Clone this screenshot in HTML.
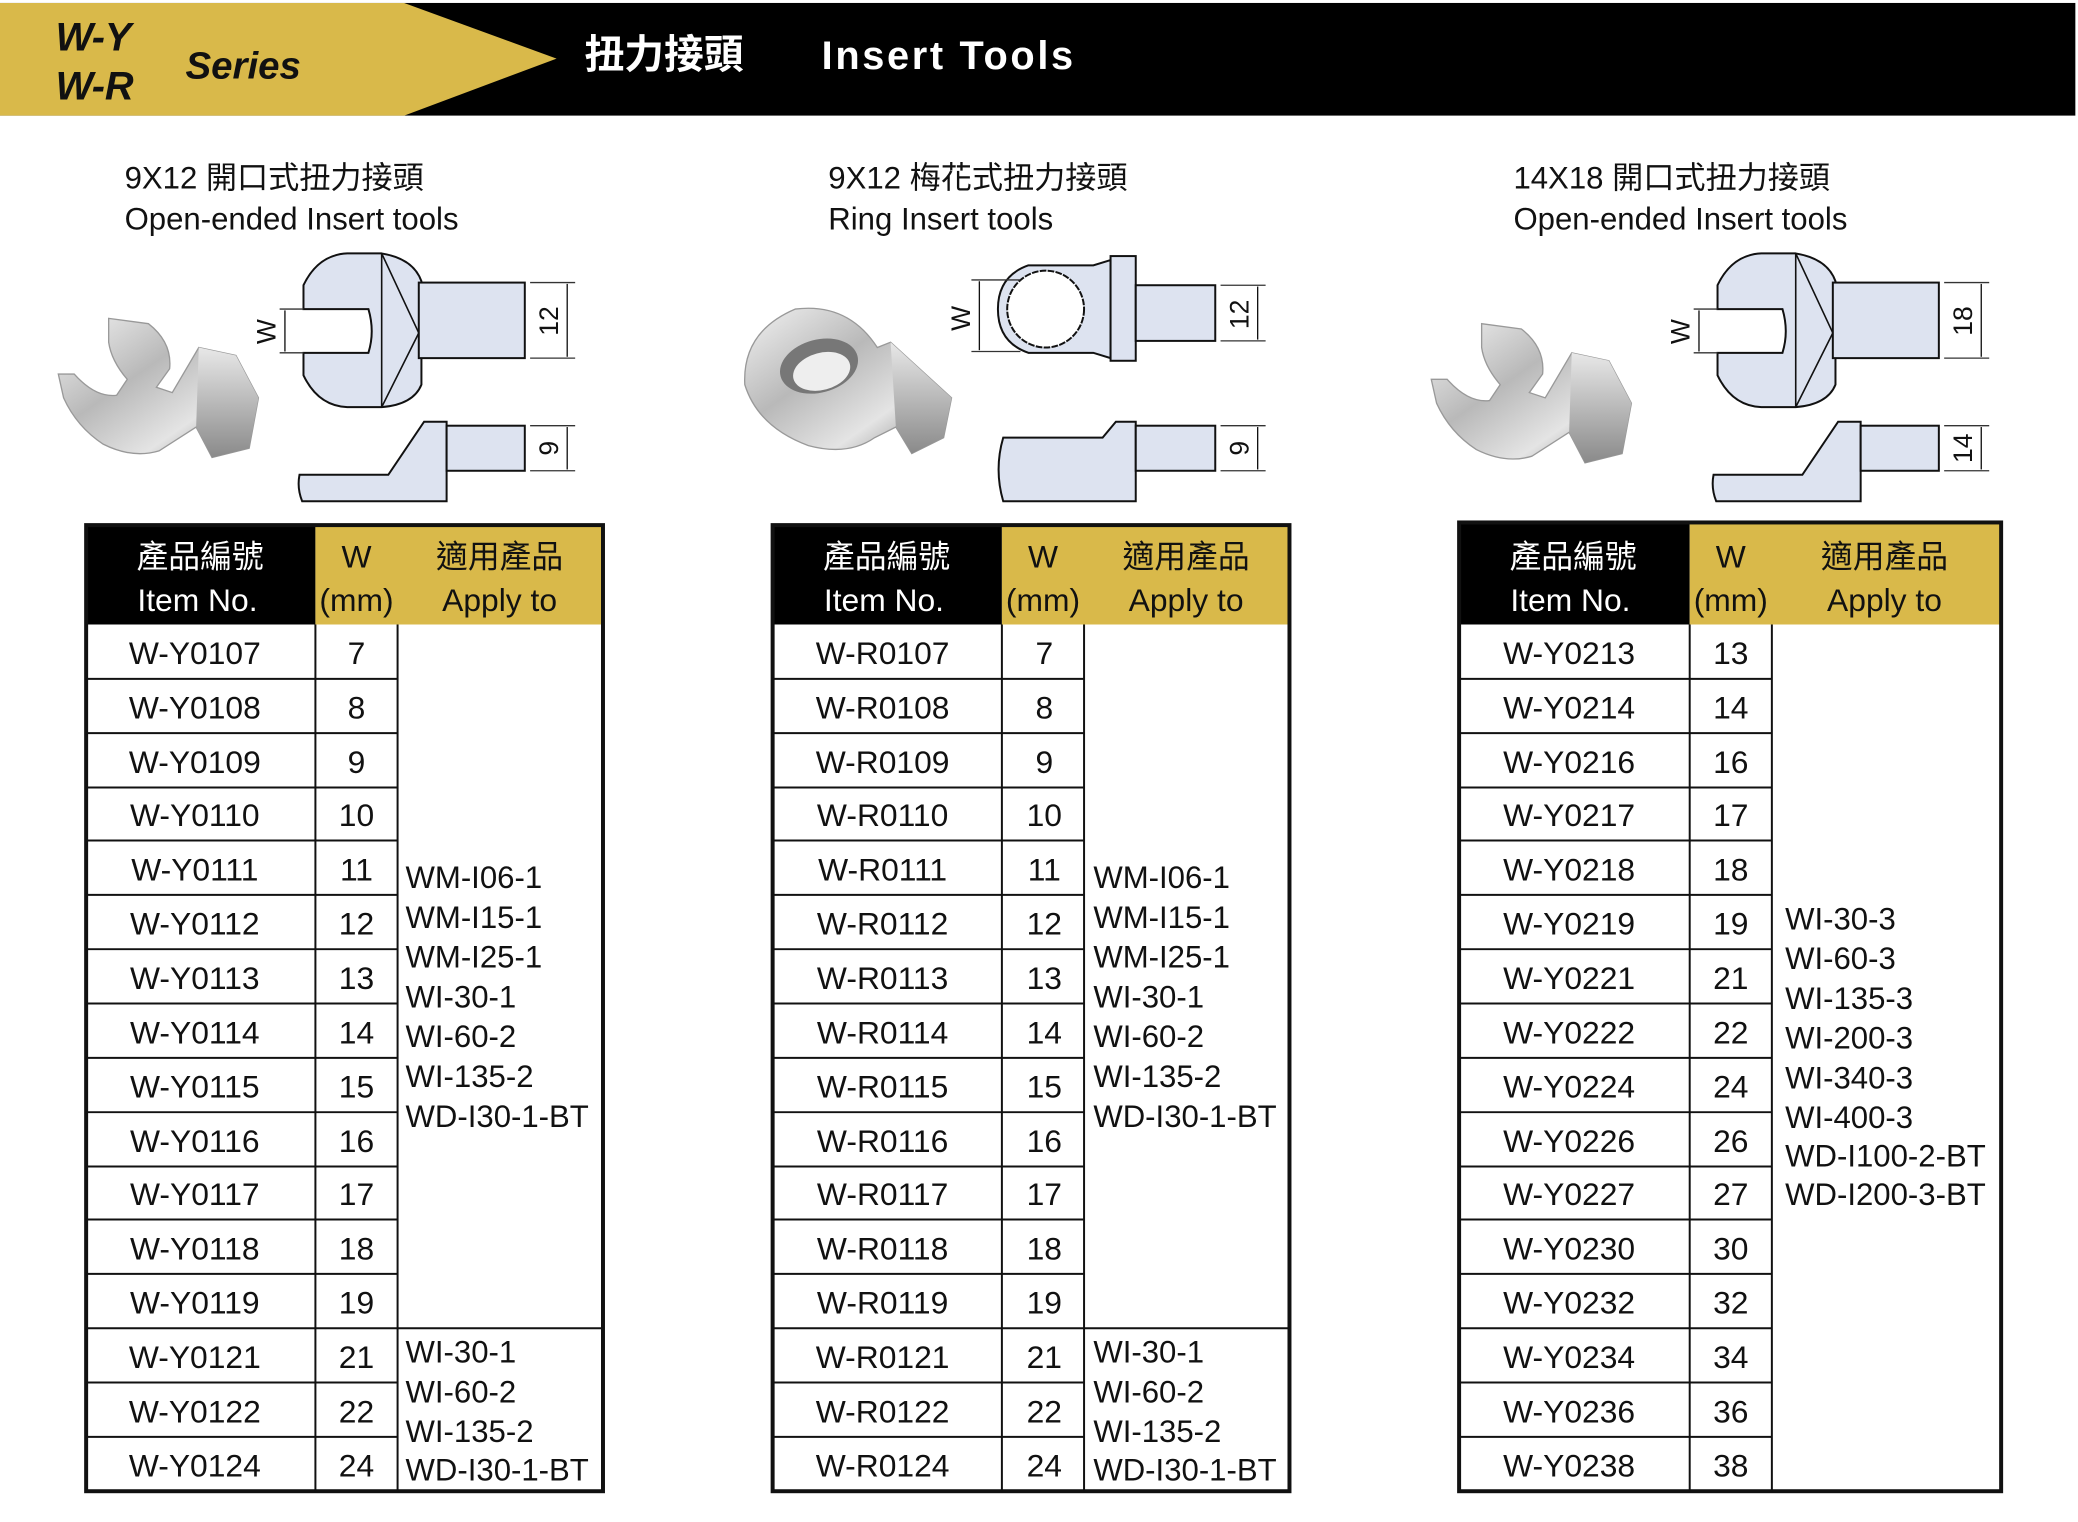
<!DOCTYPE html>
<html><head><meta charset="utf-8"><style>
html,body{margin:0;padding:0;background:#fff;}
svg{display:block;}
text{font-family:"Liberation Sans","Noto Sans CJK TC",sans-serif;}
</style></head><body>
<svg width="2078" height="1522" viewBox="0 0 1568 1148" xmlns="http://www.w3.org/2000/svg">
<defs>
<linearGradient id="mt" x1="0" y1="0" x2="1" y2="1">
<stop offset="0" stop-color="#f2f2f2"/><stop offset="0.4" stop-color="#b9b9b9"/><stop offset="0.7" stop-color="#e4e4e4"/><stop offset="1" stop-color="#7d7d7d"/>
</linearGradient>
<linearGradient id="mt2" x1="0" y1="0" x2="0" y2="1">
<stop offset="0" stop-color="#e8e8e8"/><stop offset="1" stop-color="#8a8a8a"/>
</linearGradient>
<g id="open">
 <path d="M229,233 L229,215 Q240,192 262,191 L288,191 Q312,195 318,212 L318,290 Q312,305 288,307 L262,307 Q240,306 229,283 L229,266 L278,266 Q283,250 278,233 Z" fill="#dde3f0" stroke="#111" stroke-width="1.5"/>
 <line x1="288" y1="191" x2="288" y2="307" stroke="#111" stroke-width="1.2"/>
 <path d="M288,191 L316,251 L288,307" fill="none" stroke="#111" stroke-width="1.2"/>
 <rect x="316" y="213" width="80" height="57" fill="#dde3f0" stroke="#111" stroke-width="1.5"/>
 <line x1="211" y1="233" x2="229" y2="233" stroke="#333"/><line x1="211" y1="266" x2="229" y2="266" stroke="#333"/>
 <line x1="215" y1="234" x2="215" y2="265" stroke="#111"/>
 <line x1="400" y1="213" x2="434" y2="213" stroke="#333"/><line x1="400" y1="270" x2="434" y2="270" stroke="#333"/>
 <line x1="428" y1="214" x2="428" y2="269" stroke="#111"/>
 <path d="M226,358 L293,358 L320,318 L337,318 L337,378 L228,378 Q224,368 226,358Z" fill="#dde3f0" stroke="#111" stroke-width="1.5"/>
 <rect x="337" y="321" width="59" height="34" fill="#dde3f0" stroke="#111" stroke-width="1.5"/>
 <line x1="400" y1="321" x2="434" y2="321" stroke="#333"/><line x1="400" y1="355" x2="434" y2="355" stroke="#333"/>
 <line x1="428" y1="322" x2="428" y2="354" stroke="#111"/>
</g>
<g id="photoOpen">
 <path d="M82,240 L112,244 Q130,258 128,278 L118,292 L130,296 L150,262 L178,268 L195,300 L188,338 L160,345 L148,322 L120,340 Q100,346 78,335 Q58,322 48,300 L44,282 L56,282 Q72,300 88,298 L96,286 Q84,272 82,258 Z" fill="url(#mt)" stroke="#999" stroke-width="1"/>
 <path d="M150,262 L178,268 L195,300 L188,338 L160,345 L148,322 Z" fill="url(#mt2)"/>
</g>
</defs>

<!-- header -->
<rect x="0" y="2" width="1566" height="85" fill="#000"/>
<polygon points="0,2 305,2 420,44 305,87 0,87" fill="#d9b94a"/>
<text x="42" y="38" font-size="30" font-weight="bold" font-style="italic" fill="#111">W-Y</text>
<text x="42" y="75" font-size="30" font-weight="bold" font-style="italic" fill="#111">W-R</text>
<text x="140" y="59" font-size="29" font-weight="bold" font-style="italic" fill="#111">Series</text>
<text x="441" y="51" font-size="30" font-weight="bold" fill="#fff">扭力接頭</text>
<text x="620" y="52" font-size="30" font-weight="bold" fill="#fff" letter-spacing="2">Insert Tools</text>

<!-- titles -->
<g font-size="23.5" fill="#111">
<text x="94" y="142">9X12 開口式扭力接頭</text><text x="94" y="173">Open-ended Insert tools</text>
<text x="625" y="142">9X12 梅花式扭力接頭</text><text x="625" y="173">Ring Insert tools</text>
<text x="1142" y="142">14X18 開口式扭力接頭</text><text x="1142" y="173">Open-ended Insert tools</text>
</g>

<!-- drawing 1 -->
<use href="#open"/>
<use href="#photoOpen"/>
<g font-size="20" fill="#111">
<text transform="translate(208,250) rotate(-90)" text-anchor="middle">W</text>
<text transform="translate(421,242) rotate(-90)" text-anchor="middle">12</text>
<text transform="translate(421,338) rotate(-90)" text-anchor="middle">9</text>
</g>

<!-- drawing 3 -->
<g transform="translate(1067,0)"><use href="#open"/></g>
<g transform="translate(1036,4)"><use href="#photoOpen"/></g>
<g font-size="20" fill="#111">
<text transform="translate(1275,250) rotate(-90)" text-anchor="middle">W</text>
<text transform="translate(1488,242) rotate(-90)" text-anchor="middle">18</text>
<text transform="translate(1488,338) rotate(-90)" text-anchor="middle">14</text>
</g>

<!-- drawing 2 ring -->
<path d="M776,200 L825,200 L838,196 L838,270 L825,266 L776,266 Q753,258 753,233 Q753,208 776,200Z" fill="#dde3f0" stroke="#111" stroke-width="1.5"/>
<circle cx="789" cy="233" r="29" fill="#fff" stroke="#111" stroke-width="1.5" stroke-dasharray="5 1"/>
<rect x="838" y="193" width="19" height="79" fill="#dde3f0" stroke="#111" stroke-width="1.5"/>
<rect x="857" y="215" width="60" height="42" fill="#dde3f0" stroke="#111" stroke-width="1.5"/>
<line x1="733" y1="211" x2="770" y2="211" stroke="#333"/><line x1="733" y1="265" x2="770" y2="265" stroke="#333"/>
<line x1="739" y1="212" x2="739" y2="264" stroke="#111"/>
<line x1="921" y1="215" x2="955" y2="215" stroke="#333"/><line x1="921" y1="257" x2="955" y2="257" stroke="#333"/>
<line x1="949" y1="216" x2="949" y2="256" stroke="#111"/>
<path d="M757,330 L832,330 L842,318 L857,318 L857,378 L757,378 Q750,354 757,330Z" fill="#dde3f0" stroke="#111" stroke-width="1.5"/>
<rect x="857" y="321" width="60" height="34" fill="#dde3f0" stroke="#111" stroke-width="1.5"/>
<line x1="921" y1="321" x2="955" y2="321" stroke="#333"/><line x1="921" y1="355" x2="955" y2="355" stroke="#333"/>
<line x1="949" y1="322" x2="949" y2="354" stroke="#111"/>
<g font-size="20" fill="#111">
<text transform="translate(732,240) rotate(-90)" text-anchor="middle">W</text>
<text transform="translate(942,237) rotate(-90)" text-anchor="middle">12</text>
<text transform="translate(942,338) rotate(-90)" text-anchor="middle">9</text>
</g>
<!-- ring photo -->
<path d="M600,233 Q640,228 662,262 L672,258 L718,300 L712,330 L688,342 L676,322 L660,330 Q640,344 610,336 Q572,322 562,290 Q560,250 600,233Z" fill="url(#mt)" stroke="#999"/>
<ellipse cx="618" cy="276" rx="30" ry="20" transform="rotate(-15 618 276)" fill="#777"/>
<ellipse cx="620" cy="280" rx="22" ry="14" transform="rotate(-15 620 280)" fill="#eee"/>
<path d="M672,258 L718,300 L712,330 L688,342 L676,322Z" fill="url(#mt2)"/>

<!-- tables -->
<g font-size="24" fill="#111" stroke-linecap="square">
<rect x="65" y="396" width="173" height="75" fill="#000"/>
<rect x="238" y="396" width="217" height="75" fill="#d9b94a"/>
<text x="151" y="428" text-anchor="middle" fill="#fff">產品編號</text><text x="149" y="461" text-anchor="middle" fill="#fff">Item No.</text>
<text x="269" y="428" text-anchor="middle">W</text><text x="269" y="461" text-anchor="middle">(mm)</text>
<text x="377" y="428" text-anchor="middle">適用產品</text><text x="377" y="461" text-anchor="middle">Apply to</text>
<rect x="583" y="396" width="173" height="75" fill="#000"/>
<rect x="756" y="396" width="217" height="75" fill="#d9b94a"/>
<text x="669" y="428" text-anchor="middle" fill="#fff">產品編號</text><text x="667" y="461" text-anchor="middle" fill="#fff">Item No.</text>
<text x="787" y="428" text-anchor="middle">W</text><text x="787" y="461" text-anchor="middle">(mm)</text>
<text x="895" y="428" text-anchor="middle">適用產品</text><text x="895" y="461" text-anchor="middle">Apply to</text>
<rect x="1101" y="394" width="174" height="77" fill="#000"/>
<rect x="1275" y="394" width="235" height="77" fill="#d9b94a"/>
<text x="1187" y="428" text-anchor="middle" fill="#fff">產品編號</text><text x="1185" y="461" text-anchor="middle" fill="#fff">Item No.</text>
<text x="1306" y="428" text-anchor="middle">W</text><text x="1306" y="461" text-anchor="middle">(mm)</text>
<text x="1422" y="428" text-anchor="middle">適用產品</text><text x="1422" y="461" text-anchor="middle">Apply to</text>
</g>

<g stroke="#111" stroke-width="1.5" fill="none">
<rect x="65" y="396" width="390" height="729" stroke-width="3"/>
<line x1="238" y1="471" x2="238" y2="1125"/><line x1="300" y1="471" x2="300" y2="1125"/>
<path d="M65,512H300M65,553H300M65,594H300M65,634H300M65,675H300M65,716H300M65,757H300M65,798H300M65,839H300M65,880H300M65,920H300M65,961H300M65,1002H455M65,1043H300M65,1084H300"/>
<rect x="583" y="396" width="390" height="729" stroke-width="3"/>
<line x1="756" y1="471" x2="756" y2="1125"/><line x1="818" y1="471" x2="818" y2="1125"/>
<path d="M583,512H818M583,553H818M583,594H818M583,634H818M583,675H818M583,716H818M583,757H818M583,798H818M583,839H818M583,880H818M583,920H818M583,961H818M583,1002H973M583,1043H818M583,1084H818"/>
<rect x="1101" y="394" width="409" height="731" stroke-width="3"/>
<line x1="1275" y1="471" x2="1275" y2="1125"/><line x1="1337" y1="471" x2="1337" y2="1125"/>
<path d="M1101,512H1337M1101,553H1337M1101,594H1337M1101,634H1337M1101,675H1337M1101,716H1337M1101,757H1337M1101,798H1337M1101,839H1337M1101,880H1337M1101,920H1337M1101,961H1337M1101,1002H1337M1101,1043H1337M1101,1084H1337"/>
</g>

<g font-size="24" fill="#111" text-anchor="middle">
<text x="147" y="501">W-Y0107</text><text x="269" y="501">7</text>
<text x="147" y="542">W-Y0108</text><text x="269" y="542">8</text>
<text x="147" y="583">W-Y0109</text><text x="269" y="583">9</text>
<text x="147" y="623">W-Y0110</text><text x="269" y="623">10</text>
<text x="147" y="664">W-Y0111</text><text x="269" y="664">11</text>
<text x="147" y="705">W-Y0112</text><text x="269" y="705">12</text>
<text x="147" y="746">W-Y0113</text><text x="269" y="746">13</text>
<text x="147" y="787">W-Y0114</text><text x="269" y="787">14</text>
<text x="147" y="828">W-Y0115</text><text x="269" y="828">15</text>
<text x="147" y="869">W-Y0116</text><text x="269" y="869">16</text>
<text x="147" y="909">W-Y0117</text><text x="269" y="909">17</text>
<text x="147" y="950">W-Y0118</text><text x="269" y="950">18</text>
<text x="147" y="991">W-Y0119</text><text x="269" y="991">19</text>
<text x="147" y="1032">W-Y0121</text><text x="269" y="1032">21</text>
<text x="147" y="1073">W-Y0122</text><text x="269" y="1073">22</text>
<text x="147" y="1114">W-Y0124</text><text x="269" y="1114">24</text>

<text x="666" y="501">W-R0107</text><text x="788" y="501">7</text>
<text x="666" y="542">W-R0108</text><text x="788" y="542">8</text>
<text x="666" y="583">W-R0109</text><text x="788" y="583">9</text>
<text x="666" y="623">W-R0110</text><text x="788" y="623">10</text>
<text x="666" y="664">W-R0111</text><text x="788" y="664">11</text>
<text x="666" y="705">W-R0112</text><text x="788" y="705">12</text>
<text x="666" y="746">W-R0113</text><text x="788" y="746">13</text>
<text x="666" y="787">W-R0114</text><text x="788" y="787">14</text>
<text x="666" y="828">W-R0115</text><text x="788" y="828">15</text>
<text x="666" y="869">W-R0116</text><text x="788" y="869">16</text>
<text x="666" y="909">W-R0117</text><text x="788" y="909">17</text>
<text x="666" y="950">W-R0118</text><text x="788" y="950">18</text>
<text x="666" y="991">W-R0119</text><text x="788" y="991">19</text>
<text x="666" y="1032">W-R0121</text><text x="788" y="1032">21</text>
<text x="666" y="1073">W-R0122</text><text x="788" y="1073">22</text>
<text x="666" y="1114">W-R0124</text><text x="788" y="1114">24</text>

<text x="1184" y="501">W-Y0213</text><text x="1306" y="501">13</text>
<text x="1184" y="542">W-Y0214</text><text x="1306" y="542">14</text>
<text x="1184" y="583">W-Y0216</text><text x="1306" y="583">16</text>
<text x="1184" y="623">W-Y0217</text><text x="1306" y="623">17</text>
<text x="1184" y="664">W-Y0218</text><text x="1306" y="664">18</text>
<text x="1184" y="705">W-Y0219</text><text x="1306" y="705">19</text>
<text x="1184" y="746">W-Y0221</text><text x="1306" y="746">21</text>
<text x="1184" y="787">W-Y0222</text><text x="1306" y="787">22</text>
<text x="1184" y="828">W-Y0224</text><text x="1306" y="828">24</text>
<text x="1184" y="869">W-Y0226</text><text x="1306" y="869">26</text>
<text x="1184" y="909">W-Y0227</text><text x="1306" y="909">27</text>
<text x="1184" y="950">W-Y0230</text><text x="1306" y="950">30</text>
<text x="1184" y="991">W-Y0232</text><text x="1306" y="991">32</text>
<text x="1184" y="1032">W-Y0234</text><text x="1306" y="1032">34</text>
<text x="1184" y="1073">W-Y0236</text><text x="1306" y="1073">36</text>
<text x="1184" y="1114">W-Y0238</text><text x="1306" y="1114">38</text>
</g>

<g font-size="23.5" fill="#111">
<text x="306" y="670">WM-I06-1</text><text x="306" y="700">WM-I15-1</text><text x="306" y="730">WM-I25-1</text><text x="306" y="760">WI-30-1</text><text x="306" y="790">WI-60-2</text><text x="306" y="820">WI-135-2</text><text x="306" y="850">WD-I30-1-BT</text>
<text x="306" y="1028">WI-30-1</text><text x="306" y="1058">WI-60-2</text><text x="306" y="1088">WI-135-2</text><text x="306" y="1117">WD-I30-1-BT</text>

<text x="825" y="670">WM-I06-1</text><text x="825" y="700">WM-I15-1</text><text x="825" y="730">WM-I25-1</text><text x="825" y="760">WI-30-1</text><text x="825" y="790">WI-60-2</text><text x="825" y="820">WI-135-2</text><text x="825" y="850">WD-I30-1-BT</text>
<text x="825" y="1028">WI-30-1</text><text x="825" y="1058">WI-60-2</text><text x="825" y="1088">WI-135-2</text><text x="825" y="1117">WD-I30-1-BT</text>

<text x="1347" y="701">WI-30-3</text><text x="1347" y="731">WI-60-3</text><text x="1347" y="761">WI-135-3</text><text x="1347" y="791">WI-200-3</text><text x="1347" y="821">WI-340-3</text><text x="1347" y="851">WI-400-3</text><text x="1347" y="880">WD-I100-2-BT</text><text x="1347" y="909">WD-I200-3-BT</text>
</g>
</svg>
</body></html>
